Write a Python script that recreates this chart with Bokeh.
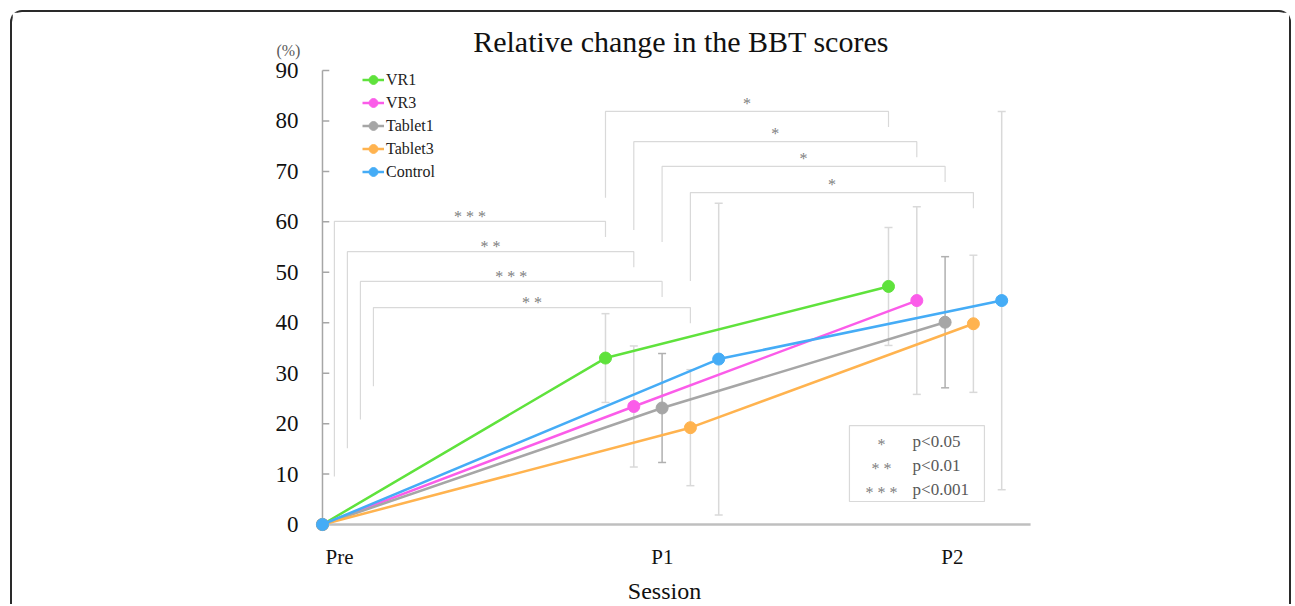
from bokeh.plotting import figure
from bokeh.models import (Legend, LegendItem, ColumnDataSource, FixedTicker,
                          Range1d, Whisker, TeeHead, CustomJSTickFormatter)
from bokeh.core.properties import value
from bokeh.embed import file_html
from bokeh.resources import INLINE

# ---------------- data ----------------
title_text = "Relative change in the BBT scores"
unit_text = "(%)"
sessions = ["Pre", "P1", "P2"]
groups = ["VR1", "VR3", "Tablet1", "Tablet3", "Control"]

vr1_mean = [0, 33.0, 47.2]
vr3_mean = [0, 23.4, 44.4]
tablet1_mean = [0, 23.1, 40.1]
tablet3_mean = [0, 19.2, 39.8]
control_mean = [0, 32.8, 44.4]

vr1_sd = [0, 8.8, 11.7]
vr3_sd = [0, 12.0, 18.6]
tablet1_sd = [0, 10.8, 13.0]
tablet3_sd = [0, 11.5, 13.6]
control_sd = [0, 30.9, 37.5]

pre_p1_sig = ["* * *", "* *", "* * *", "* *"]
p1_p2_sig = ["*", "*", "*", "*"]

sig_keys = ["*", "* *", "* * *"]
sig_texts = ["p<0.05", "p<0.01", "p<0.001"]

y_ticks = [0, 10, 20, 30, 40, 50, 60, 70, 80, 90]

# ---------------- styles ----------------
colors = ["#5fe23c", "#fb5ce9", "#a6a6a6", "#ffb34f", "#45acf6"]
err_colors = ["#d9d9d9", "#d9d9d9", "#b0b0b0", "#d9d9d9", "#d9d9d9"]
SERIF = "Liberation Serif"
BR_COLOR = "#d9d9d9"
STAR_COLOR = "#808080"
INK = "#111111"

means = [vr1_mean, vr3_mean, tablet1_mean, tablet3_mean, control_mean]
sds = [vr1_sd, vr3_sd, tablet1_sd, tablet3_sd, control_sd]

GROUP_STEP = 0.1
X_AXIS_END = 2.502


def xpos(k, s):
    return 0.0 if s == 0 else s + GROUP_STEP * k


W, H = 1281, 594
p = figure(width=W, height=H, title=None,
           x_range=Range1d(-0.1837, 2.6007), y_range=Range1d(-1.78, 99.92),
           output_backend="svg", toolbar_location=None,
           min_border_left=258, min_border_right=235,
           min_border_top=8, min_border_bottom=73)
p.styles = {"margin-left": "10px", "margin-top": "10px",
            "border-top": "2px solid #2a2a2a", "border-left": "2px solid #2a2a2a",
            "border-right": "2px solid #2a2a2a",
            "border-top-left-radius": "12px", "border-top-right-radius": "12px"}
p.grid.visible = False
p.outline_line_color = None
p.background_fill_color = "white"
p.border_fill_color = "white"

# y axis (labels only, line drawn at x = 0)
p.yaxis.ticker = FixedTicker(ticks=y_ticks)
p.yaxis.axis_line_color = None
p.yaxis.major_tick_line_color = None
p.yaxis.minor_tick_line_color = None
p.yaxis.major_tick_out = 0
p.yaxis.major_tick_in = 0
p.yaxis.major_label_text_font = SERIF
p.yaxis.major_label_text_font_size = "23px"
p.yaxis.major_label_text_color = INK
p.yaxis.major_label_standoff = -28

# x axis
tick_pos = [0.060, 1.201, 2.226]
p.xaxis.ticker = FixedTicker(ticks=tick_pos)
p.xaxis.formatter = CustomJSTickFormatter(args=dict(labels=sessions),
                                          code="return labels[index];")
p.xaxis.axis_line_color = None
p.xaxis.major_tick_line_color = None
p.xaxis.minor_tick_line_color = None
p.xaxis.major_tick_out = 0
p.xaxis.major_tick_in = 0
p.xaxis.major_label_text_font = SERIF
p.xaxis.major_label_text_font_size = "21px"
p.xaxis.major_label_text_color = INK
p.xaxis.major_label_standoff = 11
p.xaxis.axis_label = "Session"
p.xaxis.axis_label_text_font = SERIF
p.xaxis.axis_label_text_font_size = "24px"
p.xaxis.axis_label_text_font_style = "normal"
p.xaxis.axis_label_text_color = INK
p.xaxis.axis_label_standoff = 6

# title and unit (inside the drawing area)
p.text(x=[1.267], y=[95.66], text=[title_text], text_font=value(SERIF),
       text_font_size="30px", text_color=INK, text_align="center", text_baseline="middle")
p.text(x=[-0.1205], y=[93.97], text=[unit_text], text_font=value(SERIF),
       text_font_size="16px", text_color="#595959", text_align="center", text_baseline="middle")

# axis lines and inner ticks
p.segment(x0=[0], y0=[0], x1=[0], y1=[y_ticks[-1]], line_color="#a6a6a6", line_width=1.5)
p.segment(x0=[0.0] * (len(y_ticks) - 1), y0=y_ticks[1:], x1=[0.024] * (len(y_ticks) - 1),
          y1=y_ticks[1:], line_color="#a6a6a6", line_width=1.5)
p.segment(x0=[0], y0=[0], x1=[X_AXIS_END], y1=[0], line_color="#bfbfbf", line_width=2.5)

# significance brackets
pre_levels = [60.1, 54.1, 48.2, 43.0]
pre_left_x = [0.042, 0.088, 0.134, 0.180]
pre_left_bottom = [9.5, 15.1, 20.8, 27.4]
post_levels = [81.9, 75.9, 71.0, 65.8]
post_left_bottom = [64.8, 58.4, 56.0, 48.3]
DROP = 3.1
STAR_LIFT = 1.0

bx, by, sx, sy, st = [], [], [], [], []
for k in range(4):
    xl, xr, top = pre_left_x[k], xpos(k, 1), pre_levels[k]
    bx.append([xl, xl, xr, xr])
    by.append([pre_left_bottom[k], top, top, top - DROP])
    sx.append((xl + xr) / 2); sy.append(top + STAR_LIFT); st.append(pre_p1_sig[k])
for k in range(4):
    xl, xr, top = xpos(k, 1), xpos(k, 2), post_levels[k]
    bx.append([xl, xl, xr, xr])
    by.append([post_left_bottom[k], top, top, top - DROP])
    sx.append((xl + xr) / 2); sy.append(top + STAR_LIFT + 0.6); st.append(p1_p2_sig[k])
p.multi_line(xs=bx, ys=by, line_color=BR_COLOR, line_width=1.2)
p.text(x=sx, y=sy, text=st, text_font=value(SERIF), text_font_size="16px",
       text_color=STAR_COLOR, text_align="center", text_baseline="middle")

# error bars
for k in range(5):
    ex = [xpos(k, s) for s in (1, 2)]
    m = [means[k][s] for s in (1, 2)]
    sd = [sds[k][s] for s in (1, 2)]
    src = ColumnDataSource(dict(x=ex, upper=[a + b for a, b in zip(m, sd)],
                                lower=[a - b for a, b in zip(m, sd)]))
    w = Whisker(source=src, base="x", upper="upper", lower="lower", dimension="height",
                line_color=err_colors[k], line_width=1.5,
                upper_head=TeeHead(size=8, line_color=err_colors[k], line_width=1.5),
                lower_head=TeeHead(size=8, line_color=err_colors[k], line_width=1.5))
    p.add_layout(w)

# series
items = []
for k in range(5):
    xs = [xpos(k, s) for s in range(3)]
    src = ColumnDataSource(dict(x=xs, y=means[k]))
    ln = p.line("x", "y", source=src, line_color=colors[k], line_width=2.5)
    sc = p.scatter("x", "y", source=src, size=12, fill_color=colors[k], line_color=colors[k])
    items.append(LegendItem(label=groups[k], renderers=[ln, sc]))

legend = Legend(items=items, location=(92, 350), orientation="vertical")
legend.background_fill_alpha = 0
legend.border_line_color = None
legend.padding = 0
legend.margin = 0
legend.spacing = 0
legend.label_height = 23
legend.glyph_height = 23
legend.glyph_width = 22
legend.label_standoff = 2
legend.label_text_font = SERIF
legend.label_text_font_size = "16px"
legend.label_text_color = "#222222"
p.add_layout(legend, "center")

# p-value key box
p.quad(left=[1.862], right=[2.339], bottom=[4.56], top=[19.6],
       fill_color="white", line_color=BR_COLOR, line_width=1.2)
key_y = [16.5, 11.7, 6.9]
p.text(x=[1.975] * 3, y=[v - 0.6 for v in key_y], text=sig_keys, text_font=value(SERIF),
       text_font_size="16px", text_color=STAR_COLOR, text_align="center", text_baseline="middle")
p.text(x=[2.085] * 3, y=key_y, text=sig_texts, text_font=value(SERIF), text_font_size="17px",
       text_color="#595959", text_align="left", text_baseline="middle")

open("out.html", "w").write(file_html(p, INLINE))
